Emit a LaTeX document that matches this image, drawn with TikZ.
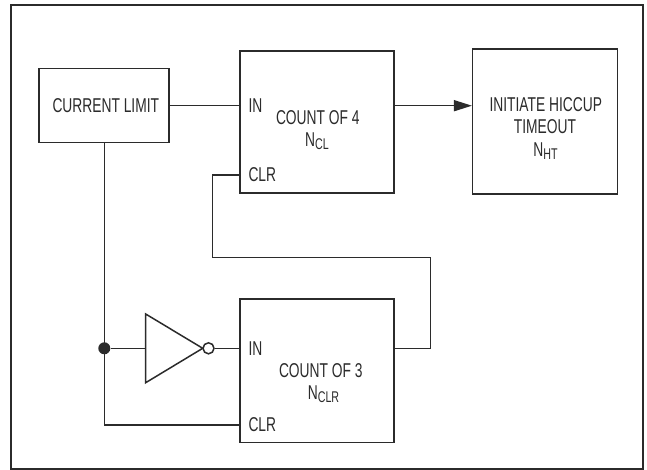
\documentclass[tikz,border=0pt]{standalone}
\usepackage{fontspec}
\setmainfont{Liberation Sans}[FakeStretch=0.69]
\usetikzlibrary{arrows.meta}
\definecolor{ink}{HTML}{2B2B2B}
\tikzset{
  wire/.style={draw=ink, line width=1.5pt},
  blk/.style={draw=ink, line width=1.5pt, rectangle, inner sep=0pt},
  lbl/.style={inner sep=0pt, text=ink, font=\fontsize{20}{22}\selectfont},
}
\newcommand{\Nsub}[1]{N\raisebox{-3pt}{\fontsize{15.5}{16}\selectfont #1}}
\begin{document}
\begin{tikzpicture}[x=1pt,y=-1pt]
\useasboundingbox (0,0) rectangle (647,470);
\draw[draw=ink, line width=2pt] (11,5) rectangle (643,468.5);

% boxes
\node[blk, minimum width=129.7pt, minimum height=74pt] (cl) at (103.9,105.7) {};
\node[blk, minimum width=154pt, minimum height=142pt] (c4) at (317,122) {};
\node[blk, minimum width=145pt, minimum height=145pt] (ht) at (545.2,121.5) {};
\node[blk, minimum width=154pt, minimum height=143.7pt] (c3) at (317,370.8) {};

% texts
\node[lbl, anchor=base] (tcl) at (105.8,112.3) {CURRENT LIMIT};
\node[lbl, anchor=base] (tc4) at (317.8,125) {COUNT OF 4};
\node[lbl, anchor=base] (nc4) at (317,147) {\Nsub{CL}};
\node[lbl, anchor=base] (tht1) at (545.8,111.7) {INITIATE HICCUP};
\node[lbl, anchor=base] (tht2) at (545,133.3) {TIMEOUT};
\node[lbl, anchor=base] (nht) at (545.5,156.7) {\Nsub{HT}};
\node[lbl, anchor=base] (tc3) at (320.8,377.7) {COUNT OF 3};
\node[lbl, anchor=base] (nc3) at (323.5,399) {\Nsub{CLR}};
\node[lbl, anchor=west] (in4) at (248.3,105.5) {IN};
\node[lbl, anchor=west] (clr4) at (248.3,175) {CLR};
\node[lbl, anchor=west] (in3) at (248.3,348.3) {IN};
\node[lbl, anchor=west] (clr3) at (248.3,425) {CLR};

% inverter
\coordinate (invl) at (145.7,348.3);
\coordinate (invt) at (202.7,348.3);
\draw[wire, line join=miter] (145.7,314) -- (invt) -- (145.7,382.7) -- cycle;
\node[draw=ink, line width=1.5pt, circle, minimum size=11pt, inner sep=0pt, fill=white] (bub) at (208.5,348.3) {};

% junction
\node[circle, fill=ink, minimum size=12pt, inner sep=0pt] (dot) at (104.3,348.3) {};

% wires
\draw[wire] (cl.east) -- (cl.east -| c4.west);
\coordinate (a4) at (c4.east |- cl.east);
\coordinate (aht) at (ht.west |- cl.east);
\draw[wire, -{Triangle[length=18pt,width=11pt]}] (a4) -- (aht);
\draw[wire] (cl.south -| dot) -- (dot.center) -- (dot.center |- clr3) -- (clr3 -| c3.west);
\draw[wire] (dot) -- (invl);
\draw[wire] (bub) -- (bub -| c3.west);
\coordinate (fb1) at (430.7,348.3);
\coordinate (fb2) at (430.7,257.7);
\coordinate (fb3) at (212.5,257.7);
\coordinate (fb4) at (212.5,175);
\draw[wire] (c3.east |- fb1) -- (fb1) -- (fb2) -- (fb3) -- (fb4) -- (fb4 -| c4.west);
\end{tikzpicture}
\end{document}
